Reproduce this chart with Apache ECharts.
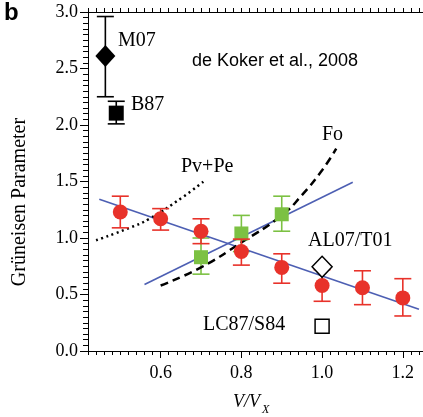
<!DOCTYPE html>
<html>
<head>
<meta charset="utf-8">
<script src="https://cdn.jsdelivr.net/npm/echarts@6/dist/echarts.min.js"></script>
<style>
html, body { margin: 0; padding: 0; background: #fff; }
#chart { width: 423px; height: 417px; }
</style>
</head>
<body>
<div id="chart"></div>
<script>
var chart = echarts.init(document.getElementById('chart'));

// red circles: V/VX, gamma, error bar low / high
var redX = [0.5, 0.6, 0.7, 0.8, 0.9, 1.0, 1.1, 1.2];
var redY = [1.23, 1.17, 1.06, 0.88, 0.74, 0.58, 0.56, 0.47];
var redLo = [1.09, 1.07, 0.95, 0.76, 0.60, 0.44, 0.41, 0.31];
var redHi = [1.37, 1.26, 1.17, 0.99, 0.86, 0.72, 0.71, 0.64];

// green squares
var greenX = [0.7, 0.8, 0.9];
var greenY = [0.83, 1.04, 1.21];
var greenLo = [0.68, 0.88, 1.06];
var greenHi = [1.00, 1.20, 1.37];

// experiments: [x, y, low, high]
var m07 = [0.463, 2.61, 2.25, 2.96];
var b87 = [0.49, 2.105, 2.01, 2.21];
var al07 = [1.0, 0.745];
var lc87 = [1.0, 0.22];

// lines
var fitRed = [[0.448, 1.342], [1.24, 0.37]];
var fitGreen = [[0.56, 0.589], [1.076, 1.493]];
var foCurve = [[0.6, 0.58], [0.7, 0.74], [0.8, 0.96], [0.9, 1.2], [0.95, 1.38], [1.0, 1.6], [1.035, 1.79]];
var pvpeCurve = [[0.44, 0.98], [0.523, 1.09], [0.572, 1.17], [0.654, 1.36], [0.71, 1.51]];

var xTicks = [0.6, 0.8, 1.0, 1.2];
var xMin = 0.42, xMax = 1.25;

var xMinor = [];
for (var i = 21; i <= 62; i++) xMinor.push(i / 50);

function zip(xs, ys) {
    return xs.map(function (x, k) { return [x, ys[k]]; });
}
function bars(xs, lo, hi) {
    return xs.map(function (x, k) { return [x, lo[k], hi[k]]; });
}

var serif = 'Liberation Serif';
var sans = 'Liberation Sans';
var red = '#e8322a';
var green = '#7cc143';
var blue = '#4d5fb3';

function errorBars(color, capW) {
    return function (params, api) {
        var x = api.value(0);
        var lo = api.coord([x, api.value(1)]);
        var hi = api.coord([x, api.value(2)]);
        var st = { stroke: color, lineWidth: 1.6 };
        return {
            type: 'group',
            children: [
                { type: 'line', shape: { x1: lo[0], y1: lo[1], x2: hi[0], y2: hi[1] }, style: st },
                { type: 'line', shape: { x1: lo[0] - capW, y1: lo[1], x2: lo[0] + capW, y2: lo[1] }, style: st },
                { type: 'line', shape: { x1: hi[0] - capW, y1: hi[1], x2: hi[0] + capW, y2: hi[1] }, style: st }
            ]
        };
    };
}

function label(txt, x, y, size, family) {
    return {
        type: 'text', x: x, y: y,
        style: { text: txt, fill: '#000', font: size + 'px "' + (family || serif) + '"', align: 'left', verticalAlign: 'middle' }
    };
}

var option = {
    animation: false,
    backgroundColor: '#fff',
    grid: [
        { left: 88, right: -1, top: 12, bottom: 66 },
        { left: 88, right: -1, top: 12, bottom: 66 }
    ],
    xAxis: [{
        gridIndex: 0, type: 'value', position: 'bottom', min: xMin, max: xMax,
        axisLine: { lineStyle: { color: '#000', width: 1 } },
        axisTick: { customValues: xTicks, length: 7, lineStyle: { color: '#000' } },
        axisLabel: {
            customValues: xTicks, margin: 13, color: '#000', fontFamily: serif, fontSize: 18,
            formatter: function (v) { return v.toFixed(1); }
        },
        splitLine: { show: false }
    }, {
        gridIndex: 0, type: 'value', position: 'top', min: xMin, max: xMax,
        axisLine: { lineStyle: { color: '#000', width: 1 } },
        axisTick: { customValues: xMinor, length: 4, lineStyle: { color: '#000' } },
        axisLabel: { show: false },
        splitLine: { show: false }
    }, {
        gridIndex: 1, type: 'value', position: 'bottom', min: xMin, max: xMax,
        axisLine: { show: false },
        axisTick: { customValues: xMinor, length: 4, lineStyle: { color: '#000' } },
        axisLabel: { show: false },
        splitLine: { show: false }
    }],
    yAxis: [{
        gridIndex: 0, type: 'value', min: 0, max: 3, interval: 0.5,
        axisLine: { show: true, lineStyle: { color: '#000', width: 1 } },
        axisTick: { show: true, length: 8, lineStyle: { color: '#000' } },
        minorTick: { show: true, splitNumber: 10, length: 5, lineStyle: { color: '#000' } },
        axisLabel: {
            margin: 10, color: '#000', fontFamily: serif, fontSize: 18,
            formatter: function (v) { return v.toFixed(1); }
        },
        splitLine: { show: false }
    }, {
        gridIndex: 1, type: 'value', min: 0, max: 3, show: false
    }],
    graphic: [
        { type: 'text', x: 4, y: 13, style: { text: 'b', fill: '#000', font: 'bold 24px "' + sans + '"', verticalAlign: 'middle' } },
        { type: 'text', x: 20, y: 202, rotation: Math.PI / 2,
          style: { text: 'Grüneisen Parameter', fill: '#000', font: '20px "' + serif + '"', align: 'center', verticalAlign: 'middle' } },
        { type: 'text', x: 233, y: 402, style: { text: 'V/V', fill: '#000', font: 'italic 18px "' + serif + '"', verticalAlign: 'middle' } },
        { type: 'text', x: 262, y: 410, style: { text: 'X', fill: '#000', font: 'italic 12px "' + serif + '"', verticalAlign: 'middle' } },
        label('M07', 118, 41, 20),
        label('B87', 131, 105, 20),
        label('de Koker et al., 2008', 192, 61, 18, sans),
        label('Pv+Pe', 181, 167, 20),
        label('Fo', 322, 135, 20),
        label('AL07/T01', 308, 241, 20),
        label('LC87/S84', 203, 325, 20)
    ],
    series: [{
        type: 'line', data: fitRed, symbol: 'none', lineStyle: { color: blue, width: 1.6 }
    }, {
        type: 'line', data: fitGreen, symbol: 'none', lineStyle: { color: blue, width: 1.6 }
    }, {
        type: 'line', data: foCurve, symbol: 'none', smooth: true,
        lineStyle: { color: '#000', width: 2.5, type: [8, 5] }
    }, {
        type: 'line', data: pvpeCurve, symbol: 'none', smooth: true,
        lineStyle: { color: '#000', width: 2.5, type: [2, 3.5] }
    }, {
        type: 'custom', renderItem: errorBars(green, 8.5), data: bars(greenX, greenLo, greenHi),
        encode: { x: 0, y: [1, 2] }, z: 3
    }, {
        type: 'scatter', data: zip(greenX, greenY), symbol: 'rect', symbolSize: 14,
        itemStyle: { color: green, opacity: 1 }, z: 3
    }, {
        type: 'custom', renderItem: errorBars(red, 8.5), data: bars(redX, redLo, redHi),
        encode: { x: 0, y: [1, 2] }, z: 4
    }, {
        type: 'scatter', data: zip(redX, redY), symbol: 'circle', symbolSize: 15,
        itemStyle: { color: red, opacity: 1 }, z: 4
    }, {
        type: 'custom', renderItem: errorBars('#000', 8.5), data: [[m07[0], m07[2], m07[3]], [b87[0], b87[2], b87[3]]],
        encode: { x: 0, y: [1, 2] }, z: 4
    }, {
        type: 'scatter', data: [[m07[0], m07[1]]], symbol: 'diamond', symbolSize: [20, 22],
        itemStyle: { color: '#000', opacity: 1 }, z: 5
    }, {
        type: 'scatter', data: [[b87[0], b87[1]]], symbol: 'rect', symbolSize: 15,
        itemStyle: { color: '#000', opacity: 1 }, z: 5
    }, {
        type: 'scatter', data: [al07], symbol: 'diamond', symbolSize: [20, 21],
        itemStyle: { color: '#fff', borderColor: '#000', borderWidth: 1.5, opacity: 1 }, z: 5
    }, {
        type: 'scatter', data: [lc87], symbol: 'rect', symbolSize: 14,
        itemStyle: { color: '#fff', borderColor: '#000', borderWidth: 1.5, opacity: 1 }, z: 5
    }]
};

chart.setOption(option);
</script>
</body>
</html>
